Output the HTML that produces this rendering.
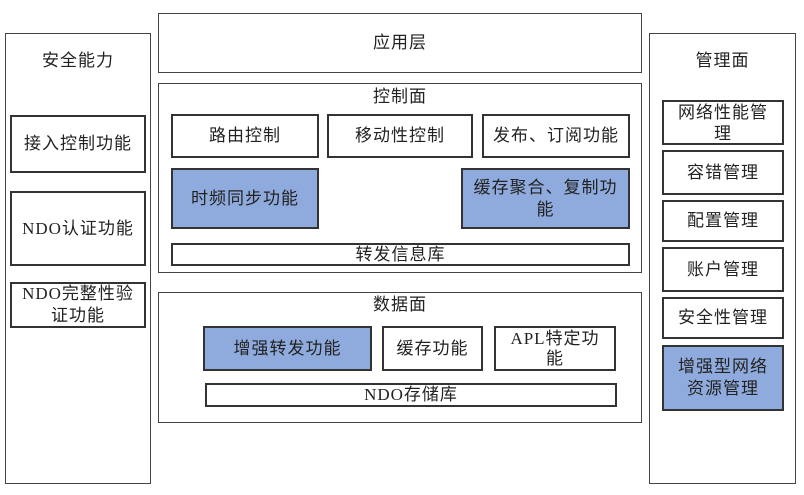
<!DOCTYPE html>
<html><head><meta charset="utf-8"><style>
body{margin:0;width:804px;height:495px;background:#fff;position:relative;overflow:hidden;font-family:"Liberation Serif","Noto Sans CJK SC",sans-serif;font-size:17px;color:#222;letter-spacing:1px}
.b{position:absolute;box-sizing:border-box;border:2px solid #333;display:flex;align-items:center;justify-content:center;text-align:center;line-height:22px;background:#fff}
.p{border:1.5px solid #444;background:transparent}
.u{background:#8faadc}
.t{position:absolute;text-align:center;line-height:22px}
</style></head><body>
<div class="b p" style="left:5px;top:33px;width:146px;height:451px"></div>
<div class="t" style="left:5px;top:50px;width:146px">安全能力</div>
<div class="b" style="left:10px;top:115px;width:136px;height:58px">接入控制功能</div>
<div class="b" style="left:10px;top:191px;width:136px;height:75px">NDO认证功能</div>
<div class="b" style="left:10px;top:282px;width:136px;height:46px;padding:0 2px">NDO完整性验<br>证功能</div>

<div class="b p" style="left:158px;top:13px;width:484px;height:60px;padding-left:0">应用层</div>

<div class="b p" style="left:158px;top:83px;width:484px;height:190px"></div>
<div class="t" style="left:158px;top:86px;width:484px">控制面</div>
<div class="b" style="left:171px;top:114px;width:148px;height:44px">路由控制</div>
<div class="b" style="left:327px;top:114px;width:146px;height:44px">移动性控制</div>
<div class="b" style="left:482px;top:114px;width:148px;height:44px">发布、订阅功能</div>
<div class="b u" style="left:171px;top:168px;width:148px;height:61px">时频同步功能</div>
<div class="b u" style="left:461px;top:168px;width:169px;height:61px;padding:0 4px">缓存聚合、复制功<br>能</div>
<div class="b" style="left:171px;top:243px;width:459px;height:23px">转发信息库</div>

<div class="b p" style="left:158px;top:292px;width:484px;height:131px"></div>
<div class="t" style="left:158px;top:294px;width:484px">数据面</div>
<div class="b u" style="left:203px;top:326px;width:169px;height:45px">增强转发功能</div>
<div class="b" style="left:382px;top:326px;width:101px;height:45px">缓存功能</div>
<div class="b" style="left:494px;top:326px;width:122px;height:45px;padding:0 4px;line-height:20px">APL特定功<br>能</div>
<div class="b" style="left:205px;top:383px;width:412px;height:24px">NDO存储库</div>

<div class="b p" style="left:649px;top:33px;width:147px;height:451px"></div>
<div class="t" style="left:649px;top:50px;width:147px">管理面</div>
<div class="b" style="left:662px;top:100px;width:122px;height:45px;line-height:21px">网络性能管<br>理</div>
<div class="b" style="left:662px;top:150px;width:122px;height:45px">容错管理</div>
<div class="b" style="left:662px;top:200px;width:122px;height:42px">配置管理</div>
<div class="b" style="left:662px;top:247px;width:122px;height:45px">账户管理</div>
<div class="b" style="left:662px;top:297px;width:122px;height:42px">安全性管理</div>
<div class="b u" style="left:662px;top:345px;width:122px;height:66px;padding:0 8px">增强型网络<br>资源管理</div>
</body></html>
